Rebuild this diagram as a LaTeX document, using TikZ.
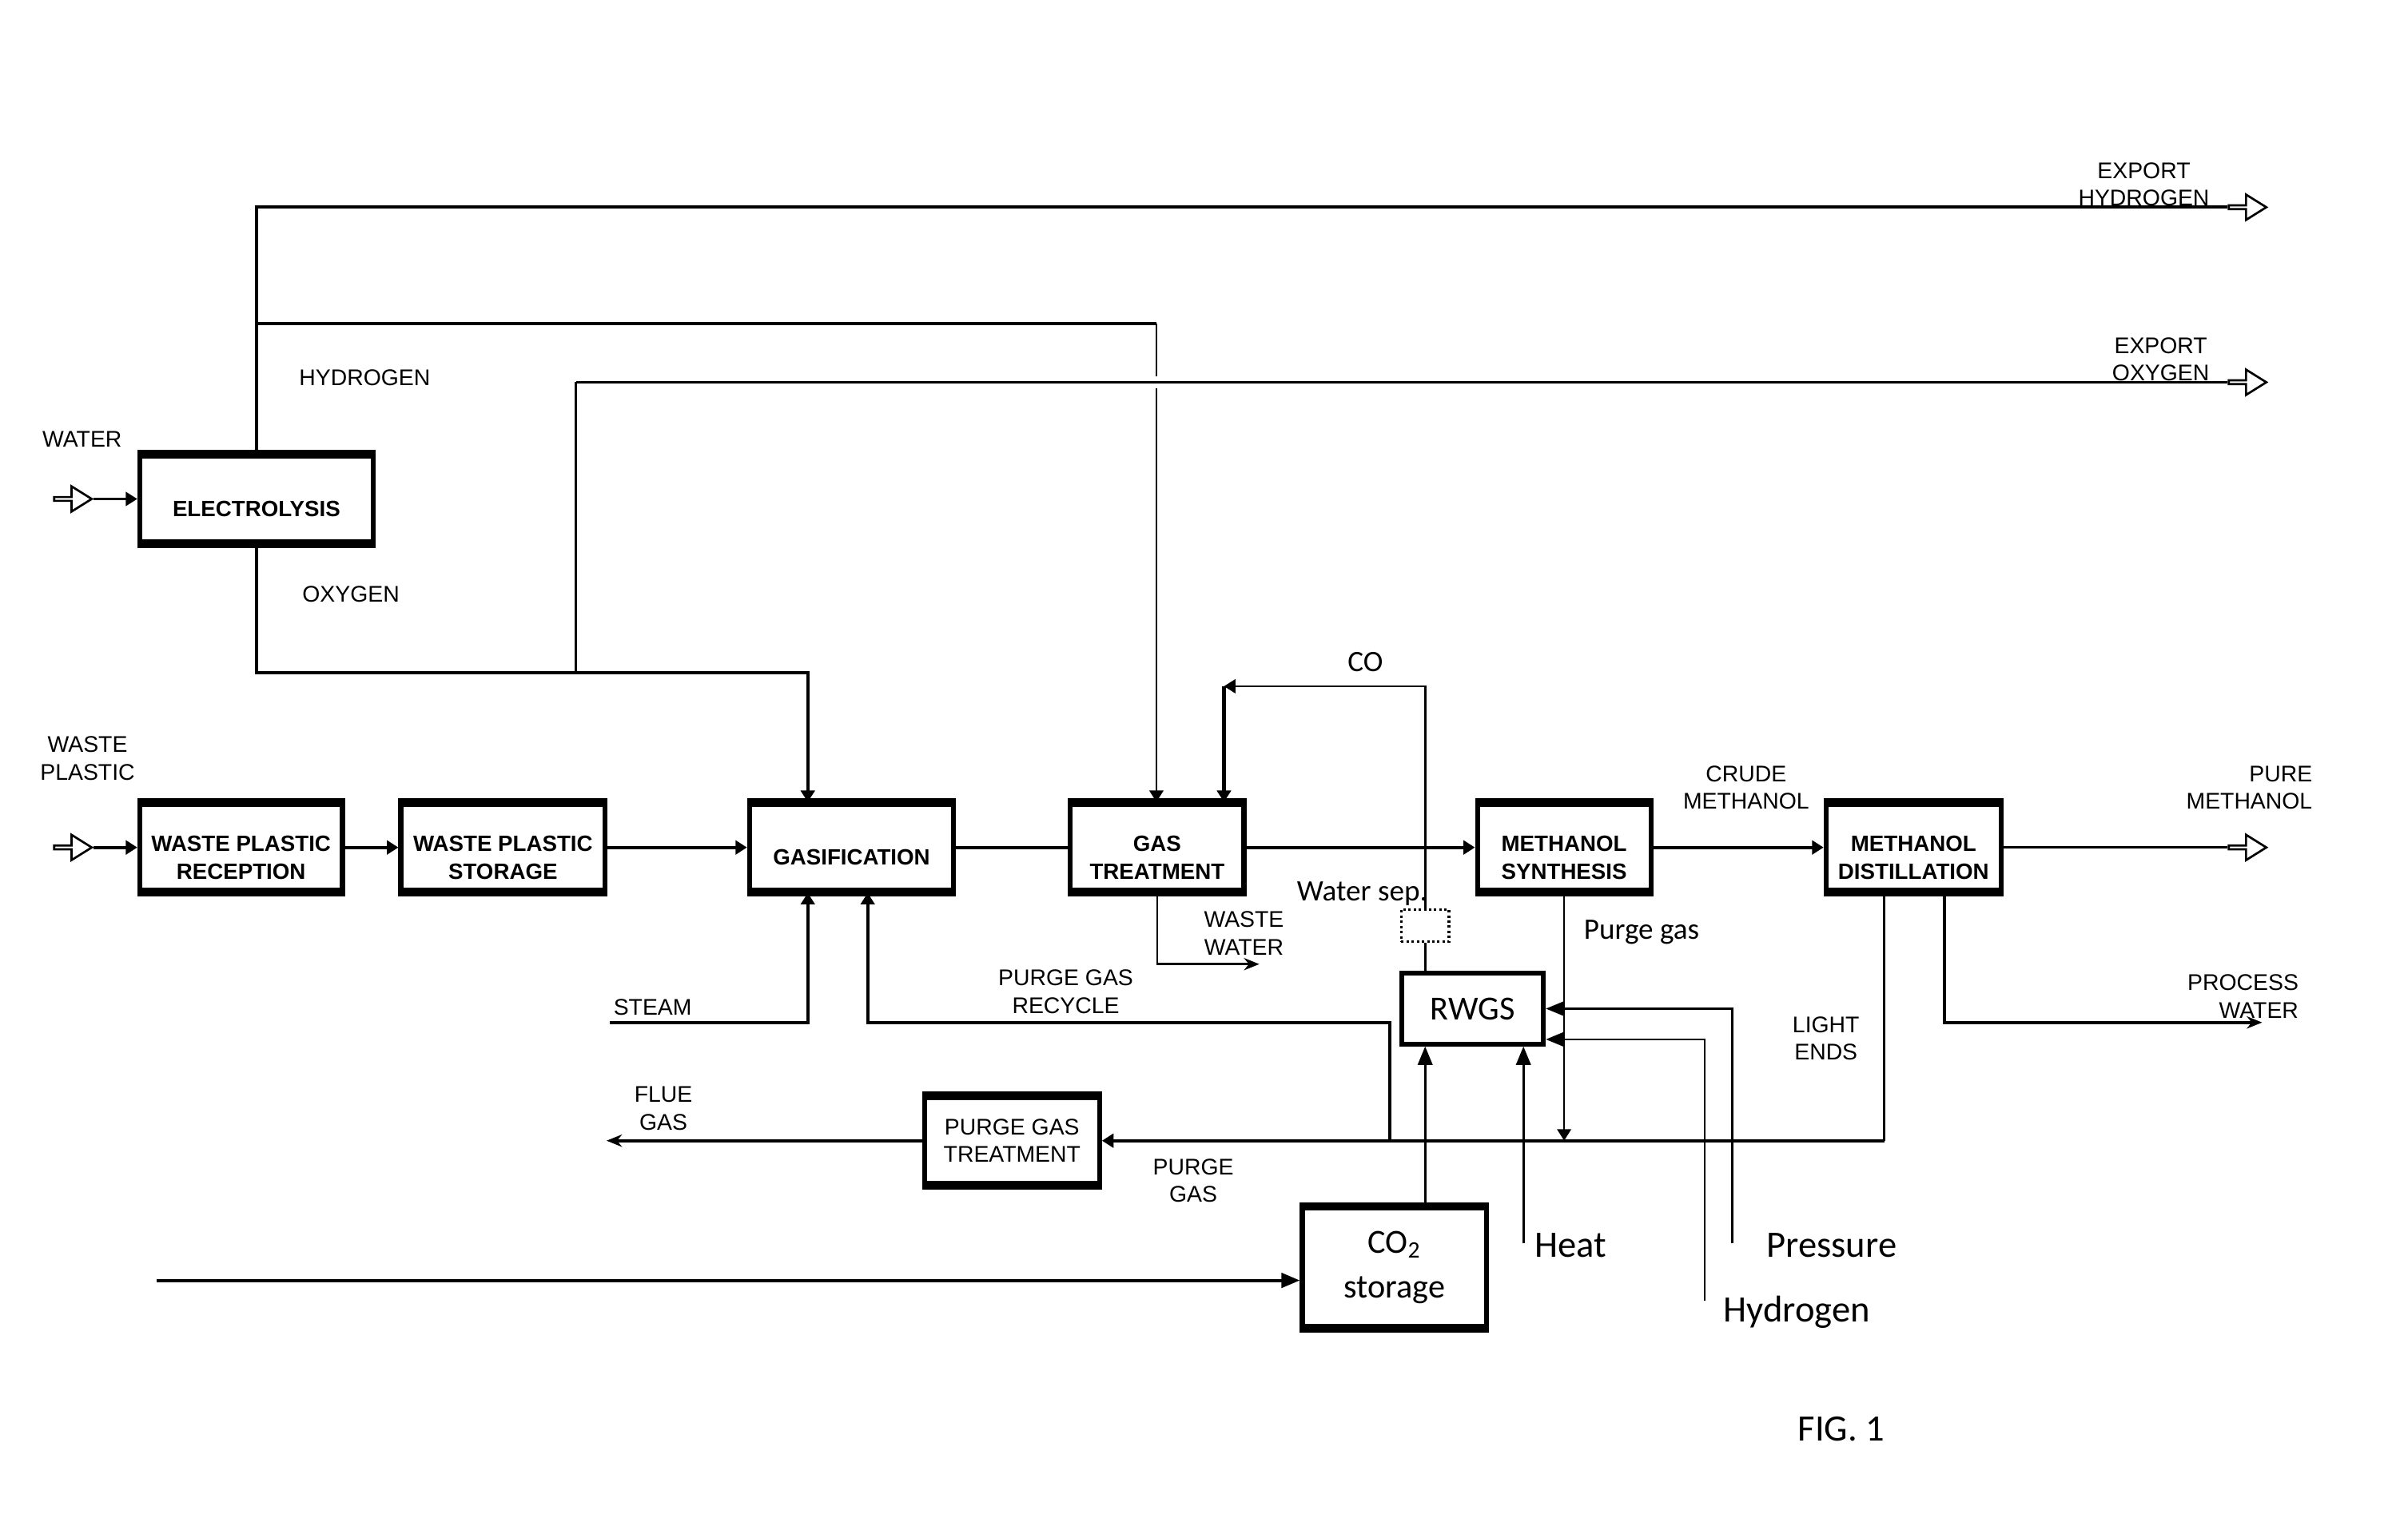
\documentclass[tikz,border=0pt]{standalone}
\usepackage{fontspec}
\setmainfont{Liberation Sans}
\newfontfamily\clb{Carlito}
\usetikzlibrary{arrows.meta,shapes.arrows}
\newcommand{\lo}[1]{\raisebox{-4.5pt}[\height][\depth]{\begin{tabular}{@{}c@{}}#1\end{tabular}}}
\tikzset{
  >={Triangle[length=1.5mm,width=1.8mm]},
  ln/.style={line width=1.2pt},
  lt/.style={line width=0.8pt},
  bigtip/.style={-{Triangle[length=2.4mm,width=1.9mm]}},
  sharp/.style={-{Stealth[length=2mm,width=1.6mm]}},
  bx/.style={draw,line width=1.8pt,inner sep=1pt,align=center,font=\fontsize{8.2}{10.2}\selectfont\bfseries},
  bxp/.style={bx,font=\fontsize{8.4}{10.2}\selectfont},
  bxc/.style={bx,font=\clb\fontsize{12.5}{16.5}\selectfont},
  lab/.style={align=center,inner sep=0pt,font=\fontsize{8.4}{10.2}\selectfont},
  clab/.style={inner sep=0pt,font=\clb\fontsize{11}{13}\selectfont},
  blab/.style={inner sep=0pt,font=\clb\fontsize{13.8}{16}\selectfont},
  hollow/.style={single arrow,draw,fill=white,line width=0.8pt,inner sep=0pt,minimum height=4.9mm,minimum width=3.3mm,single arrow head extend=0.8mm,single arrow tip angle=64},
}
\begin{document}
\begin{tikzpicture}[x=0.2mm,y=-0.2mm]
  \useasboundingbox (0,0) rectangle (1568,999);
  % process boxes
  \node[bx,minimum width=30.4mm,minimum height=11.2mm] (el)  at (167,325)    {\lo{ELECTROLYSIS}};
  \node[bx,minimum width=26.4mm,minimum height=11.2mm] (wpr) at (157,552)    {\lo{WASTE PLASTIC\\RECEPTION}};
  \node[bx,minimum width=26.6mm,minimum height=11.2mm] (wps) at (327.5,552)  {\lo{WASTE PLASTIC\\STORAGE}};
  \node[bx,minimum width=26.6mm,minimum height=11.2mm] (gas) at (554.5,552)  {\lo{GASIFICATION}};
  \node[bx,minimum width=22.6mm,minimum height=11.2mm] (gt)  at (753.5,552)  {\lo{GAS\\TREATMENT}};
  \node[bx,minimum width=22.6mm,minimum height=11.2mm] (ms)  at (1018.5,552) {\lo{METHANOL\\SYNTHESIS}};
  \node[bx,minimum width=22.8mm,minimum height=11.2mm] (md)  at (1246,552)   {\lo{METHANOL\\DISTILLATION}};
  \node[bxp,minimum width=22.8mm,minimum height=11.2mm] (pgt) at (659,743)   {PURGE GAS\\TREATMENT};
  \node[bxc,minimum width=18.4mm,minimum height=9.2mm] (rwgs) at (959,657)   {RWGS};
  \node[bxc,minimum width=24mm,minimum height=15.4mm] (cst) at (908,825.5)   {CO\textsubscript{2}\\storage};
  \node[draw,densely dotted,line width=0.9pt,minimum width=6.2mm,minimum height=4.2mm,inner sep=0pt] (wsep) at (928,603) {};
  \foreach \b in {el,wpr,wps,gas,gt,ms,md,pgt,cst}
    \draw[line width=2.6pt] (\b.north west) -- (\b.north east) (\b.south west) -- (\b.south east);
  % inlets and outlets
  \node[hollow] (hw) at (46.5,325) {};
  \node[hollow] (hp) at (46.5,552) {};
  \node[hollow] (xh) at (1462.5,135) {};
  \node[hollow] (xo) at (1462.5,249) {};
  \node[hollow] (xm) at (1462.5,552) {};
  % main line
  \draw[lt,->] (hw.tip) -- (el.west);
  \draw[ln,->] (hp.tip) -- (wpr.west);
  \draw[ln,->] (wpr) -- (wps);
  \draw[ln,->] (wps) -- (gas);
  \draw[ln] (gas) -- (gt);
  \draw[ln,->] (gt) -- (ms);
  \draw[ln,->] (ms) -- (md);
  \draw[lt] (md) -- (xm.tail);
  % hydrogen
  \coordinate (h2) at (753,211);
  \draw[ln] (el.north) |- (xh.tail);
  \draw[ln] (el.north |- h2) -- (h2);
  \draw[lt,->] (h2) -- (h2 |- gt.north);
  % oxygen
  \coordinate (o1) at (375,438);
  \coordinate (o2) at (375,249);
  \coordinate (o3) at (526,438);
  \draw[ln,->] (el.south) |- (o3) -- (o3 |- gas.north);
  \draw[lt,preaction={draw=white,line width=4.6pt}] (o2) -- (xo.tail);
  \draw[lt] (o1) -- (o2);
  % CO back to gas treatment
  \coordinate (c1) at (797,447);
  \draw[lt] (rwgs.north -| wsep) -- (wsep.south);
  \draw[lt,->] (wsep.north) |- (c1);
  \draw[ln,->] (c1) -- (c1 |- gt.north);
  % waste water
  \coordinate (ww) at (820,628);
  \draw[lt,sharp] (gt.south) |- (ww);
  % steam and recycle
  \coordinate (st) at (397,666);
  \draw[ln,->] (st) -| (o3 |- gas.south);
  \coordinate (r1) at (905,666);
  \coordinate (r2) at (565,666);
  \coordinate (ph) at (1227,743);
  \draw[ln,->] (r1 |- ph) -- (r1) -- (r2) -- (r2 |- gas.south);
  % purge gas header
  \draw[lt] (md.south -| ph) -- (ph);
  \draw[ln,->] (ph) -- (pgt.east);
  \coordinate (fg) at (395,743);
  \draw[ln,sharp] (pgt.west) -- (fg);
  \draw[lt,->] (ms.south) -- (ms.south |- ph);
  % process water
  \coordinate (w1) at (1266,666);
  \coordinate (w2) at (1473,666);
  \draw[ln,sharp] (md.south -| w1) -- (w1) -- (w2);
  % RWGS feeds
  \draw[lt,bigtip] (cst.north -| wsep) -- (rwgs.south -| wsep);
  \coordinate (ht) at (992,810);
  \draw[lt,bigtip] (ht) -- (rwgs.south -| ht);
  \coordinate (pr) at (1128,810);
  \draw[lt,bigtip] (pr) |- (rwgs.east);
  \coordinate (hy) at (1110,847);
  \coordinate (hy2) at (1110,677);
  \draw[lt,bigtip] (hy) -- (hy2) -- (rwgs.east |- hy2);
  % CO2 feed
  \coordinate (ci) at (102,834);
  \draw[ln,bigtip] (ci) -- (cst.west |- ci);
  % labels
  \node[lab] (lwater) at (53.5,286) {WATER};
  \node[lab] (lhyd2) at (237.5,246) {HYDROGEN};
  \node[lab] (loxy) at (228.5,387) {OXYGEN};
  \node[lab] (lwp) at (57,494) {WASTE\\PLASTIC};
  \node[lab] (lxh) at (1396,120) {EXPORT\\HYDROGEN};
  \node[lab] (lxo) at (1407,234) {EXPORT\\OXYGEN};
  \node[clab,anchor=base] (lco) at (889,437.5) {CO};
  \node[lab] (lcm) at (1137,513) {CRUDE\\METHANOL};
  \node[lab,align=right,anchor=east] (lpm) at (1506,513) {PURE\\METHANOL};
  \node[clab,anchor=base] (lws) at (887,587) {Water sep.};
  \node[lab] (lww) at (810,608) {WASTE\\WATER};
  \node[clab,anchor=base west] (lpg) at (1031,612) {Purge gas};
  \node[lab] (lst) at (425,656) {STEAM};
  \node[lab] (lrc) at (694,646) {PURGE GAS\\RECYCLE};
  \node[lab,align=right,anchor=east] (lpw) at (1497,649) {PROCESS\\WATER};
  \node[lab] (lle) at (1189,676.5) {LIGHT\\ENDS};
  \node[lab] (lfg) at (432,722) {FLUE\\GAS};
  \node[lab] (lpu) at (777,769) {PURGE\\GAS};
  \node[blab,anchor=base west] (lheat) at (999,819) {Heat};
  \node[blab,anchor=base west] (lpres) at (1150,819) {Pressure};
  \node[blab,anchor=base west] (lhyd) at (1122,861) {Hydrogen};
  \node[blab,anchor=base] (lfig) at (1199,938.5) {FIG. 1};
\end{tikzpicture}
\end{document}
